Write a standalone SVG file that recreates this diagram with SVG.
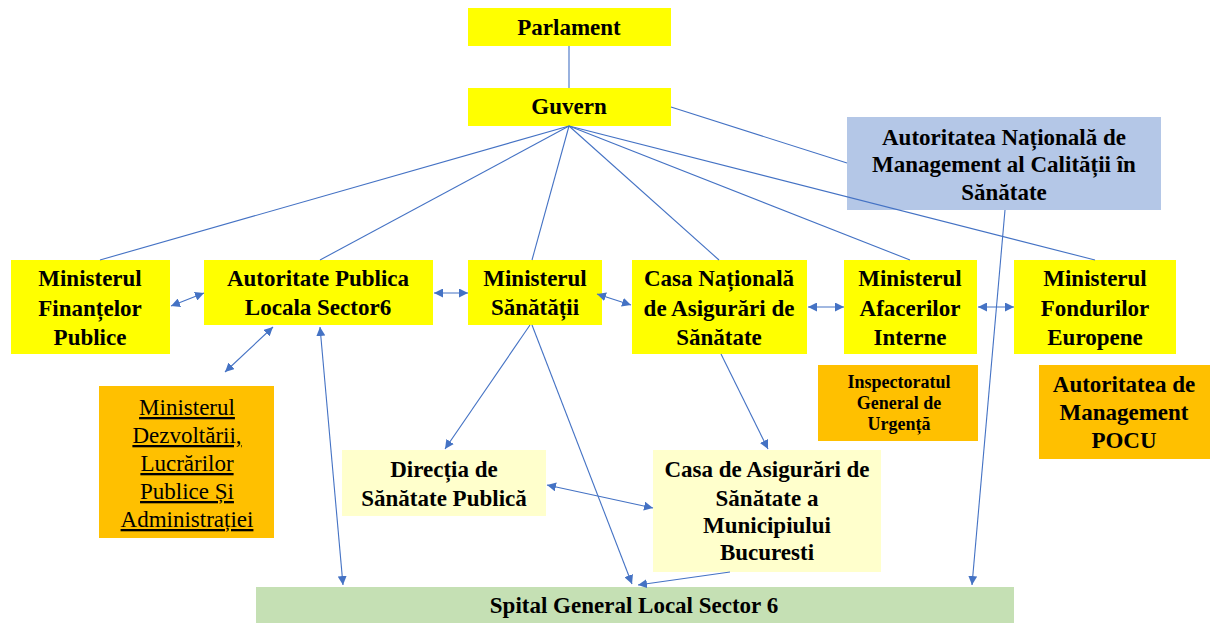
<svg xmlns="http://www.w3.org/2000/svg" width="1210" height="623" viewBox="0 0 1210 623">
<defs>
<marker id="ah" viewBox="0 0 10 10" refX="10" refY="5" markerWidth="9" markerHeight="9" markerUnits="userSpaceOnUse" orient="auto-start-reverse">
<path d="M0,0 L10,5 L0,10 z" fill="#4472C4"/>
</marker>
<style>
text{font-family:'Liberation Serif','Times New Roman','DejaVu Serif',serif}
.t{font-weight:bold;font-size:23px;fill:#000;text-anchor:middle}
.r{font-size:23px;fill:#000;text-anchor:middle;text-decoration:underline}
.s{font-size:18px}
.y{fill:#FFFF00}
.o{fill:#FFC000}
.ly{fill:#FFFFCC}
.g{fill:#C5E0B4}
.b{fill:#B4C7E7}
.c line{stroke:#4472C4;stroke-width:1.1;fill:none}
</style>
</defs>
<rect width="1210" height="623" fill="#fff"/>

<g id="parlament"><rect class="y" x="468" y="8" width="203" height="38"/><text class="t" x="569" y="35">Parlament</text></g>
<g id="guvern"><rect class="y" x="468" y="88" width="203" height="38"/><text class="t" x="569" y="114">Guvern</text></g>
<g id="anmcs"><rect class="b" x="847" y="117" width="314" height="93"/>
<text class="t" x="1004" y="145">Autoritatea Națională de</text>
<text class="t" x="1004" y="172">Management al Calității în</text>
<text class="t" x="1004" y="200">Sănătate</text></g>

<g id="mfp"><rect class="y" x="11" y="260" width="159" height="94"/>
<text class="t" x="90" y="286">Ministerul</text><text class="t" x="90" y="316">Finanțelor</text><text class="t" x="90" y="345">Publice</text></g>
<g id="apl"><rect class="y" x="204" y="260" width="229" height="65"/>
<text class="t" x="318" y="286">Autoritate Publica</text><text class="t" x="318" y="315">Locala Sector6</text></g>
<g id="ms"><rect class="y" x="468" y="260" width="134" height="65"/>
<text class="t" x="535" y="286">Ministerul</text><text class="t" x="535" y="315">Sănătății</text></g>
<g id="cnas"><rect class="y" x="632" y="260" width="175" height="94"/>
<text class="t" x="719" y="286">Casa Națională</text><text class="t" x="719" y="316">de Asigurări de</text><text class="t" x="719" y="345">Sănătate</text></g>
<g id="mai"><rect class="y" x="844" y="260" width="133" height="94"/>
<text class="t" x="910" y="286">Ministerul</text><text class="t" x="910" y="316">Afacerilor</text><text class="t" x="910" y="345">Interne</text></g>
<g id="mfe"><rect class="y" x="1014" y="260" width="162" height="94"/>
<text class="t" x="1095" y="286">Ministerul</text><text class="t" x="1095" y="316">Fondurilor</text><text class="t" x="1095" y="345">Europene</text></g>

<g id="mdlpa"><rect class="o" x="99" y="386" width="175" height="152"/>
<text class="r" x="187" y="415">Ministerul</text><text class="r" x="187" y="443">Dezvoltării,</text><text class="r" x="187" y="471">Lucrărilor</text><text class="r" x="187" y="499">Publice Și</text><text class="r" x="187" y="527">Administrației</text></g>
<g id="igsu"><rect class="o" x="818" y="365" width="160" height="76"/>
<text class="t s" x="899" y="388">Inspectoratul</text><text class="t s" x="899" y="409">General de</text><text class="t s" x="899" y="430">Urgență</text></g>
<g id="pocu"><rect class="o" x="1039" y="365" width="171" height="94"/>
<text class="t" x="1124" y="392">Autoritatea de</text><text class="t" x="1124" y="420">Management</text><text class="t" x="1124" y="448">POCU</text></g>

<g id="dsp"><rect class="ly" x="342" y="450" width="204" height="66"/>
<text class="t" x="444" y="477">Direcția de</text><text class="t" x="444" y="506">Sănătate Publică</text></g>
<g id="casmb"><rect class="ly" x="653" y="450" width="228" height="122"/>
<text class="t" x="767" y="477">Casa de Asigurări de</text><text class="t" x="767" y="506">Sănătate a</text><text class="t" x="767" y="533">Municipiului</text><text class="t" x="767" y="560">Bucuresti</text></g>
<g id="spital"><rect class="g" x="256" y="587" width="758" height="36"/>
<text class="t" x="634" y="613">Spital General Local Sector 6</text></g>

<g id="connectors" class="c">
<line x1="569" y1="46" x2="569" y2="88"/>
<line x1="569" y1="126" x2="100" y2="260"/>
<line x1="569" y1="126" x2="320" y2="260"/>
<line x1="569" y1="126" x2="532" y2="260"/>
<line x1="569" y1="126" x2="719" y2="260"/>
<line x1="569" y1="126" x2="910" y2="260"/>
<line x1="569" y1="126" x2="1095" y2="260"/>
<line x1="671" y1="107" x2="847" y2="163"/>
<line x1="171" y1="306" x2="204" y2="293" marker-start="url(#ah)" marker-end="url(#ah)"/>
<line x1="434" y1="293" x2="468" y2="293" marker-start="url(#ah)" marker-end="url(#ah)"/>
<line x1="597" y1="294" x2="631" y2="305" marker-start="url(#ah)" marker-end="url(#ah)"/>
<line x1="808" y1="307" x2="844" y2="307" marker-start="url(#ah)" marker-end="url(#ah)"/>
<line x1="978" y1="307" x2="1014" y2="307" marker-start="url(#ah)" marker-end="url(#ah)"/>
<line x1="273" y1="327" x2="225" y2="372" marker-start="url(#ah)" marker-end="url(#ah)"/>
<line x1="320" y1="327" x2="343" y2="585" marker-start="url(#ah)" marker-end="url(#ah)"/>
<line x1="530" y1="325" x2="445" y2="449" marker-end="url(#ah)"/>
<line x1="532" y1="325" x2="632" y2="584" marker-end="url(#ah)"/>
<line x1="721" y1="354" x2="768" y2="449" marker-end="url(#ah)"/>
<line x1="730" y1="572" x2="638" y2="585" marker-end="url(#ah)"/>
<line x1="547" y1="485" x2="653" y2="508" marker-start="url(#ah)" marker-end="url(#ah)"/>
<line x1="1005" y1="210" x2="972" y2="585" marker-end="url(#ah)"/>
</g>
</svg>
